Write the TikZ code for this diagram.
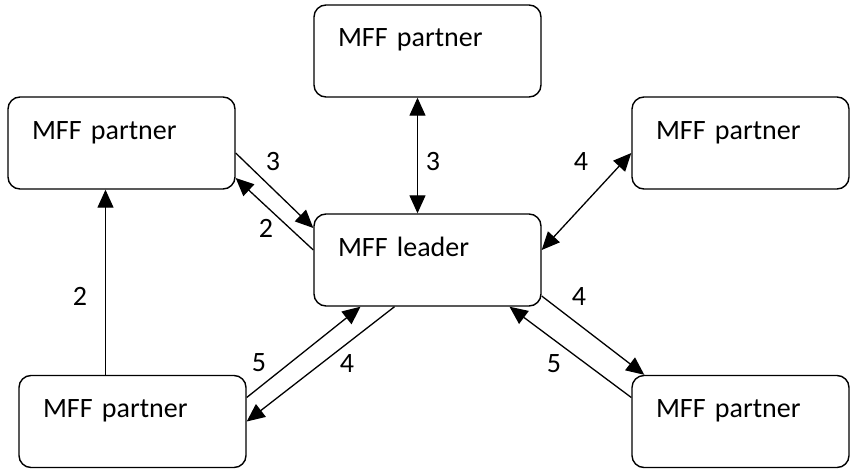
\documentclass[tikz,border=0pt]{standalone}
\usepackage{fontspec}
\setmainfont{Carlito}
\usepackage{tikz}
\usetikzlibrary{calc, arrows.meta, positioning}

\tikzset{
    mffbox/.style={rectangle, rounded corners=12pt, draw=black, line width=1.4pt,
          minimum height=92pt, text width=#1, align=left, inner xsep=24pt,
          inner ysep=4pt, text height=20pt, text depth=28pt},
    mffbox/.default=179pt,
    flow/.style={line width=1.3pt, -{Triangle[length=18pt, width=16pt]}},
    flowboth/.style={line width=1.3pt, {Triangle[length=18pt, width=16pt]}-{Triangle[length=18pt, width=16pt]}},
    num/.style={inner sep=0pt}
}

\begin{document}
\begin{tikzpicture}[x=1pt, y=-1pt, font=\fontsize{28}{34}\selectfont]
        \useasboundingbox (0,0) rectangle (850,468);

        % partners and leader
        \node[mffbox] (leader) at (427.5,260) {MFF leader};
        \node[mffbox] (pTop) at (427.5,51) {MFF partner};
        \node[mffbox] (pLeft) at (121.5,143) {MFF partner};
        \node[mffbox=169pt] (pRight) at (740.5,143) {MFF partner};
        \node[mffbox] (pLowLeft) at (132.5,421.5) {MFF partner};
        \node[mffbox=169pt] (pLowRight) at (740.5,421.5) {MFF partner};

        % messages
        \draw[flow] ([yshift=-10pt]pLeft.east) -- ([yshift=32pt]leader.west);
        \draw[flow] ([yshift=10pt]leader.west) -- ([yshift=-35pt]pLeft.east);
        \draw[flowboth] ([xshift=-10pt]pTop.south) -- ([xshift=-10pt]leader.north);
        \draw[flowboth] ([yshift=10pt]leader.east) -- ([yshift=-10pt]pRight.west);
        \draw[flow] ([yshift=-36pt]leader.east) -- ([xshift=13pt]pLowRight.north west);
        \draw[flow] ([yshift=24pt]pLowRight.west) -- ([xshift=82pt]leader.south);
        \draw[flow] ([yshift=24pt]pLowLeft.east) -- ([xshift=-67pt]leader.south);
        \draw[flow] ([xshift=-33pt]leader.south) -- (pLowLeft.east);
        \draw[flow] ([xshift=-27pt]pLowLeft.north) -- ([xshift=-27pt]pLowLeft.north |- pLeft.south);

        % step numbers
        \node[num] (nA) at (273,162) {3};
        \node[num] (nB) at (266,228) {2};
        \node[num] (nC) at (433,162) {3};
        \node[num] (nD) at (581,162) {4};
        \node[num] (nE) at (80,296) {2};
        \node[num] (nF) at (259,363) {5};
        \node[num] (nG) at (347,364) {4};
        \node[num] (nH) at (579,297) {4};
        \node[num] (nI) at (554,364) {5};
    \end{tikzpicture}
\end{document}
